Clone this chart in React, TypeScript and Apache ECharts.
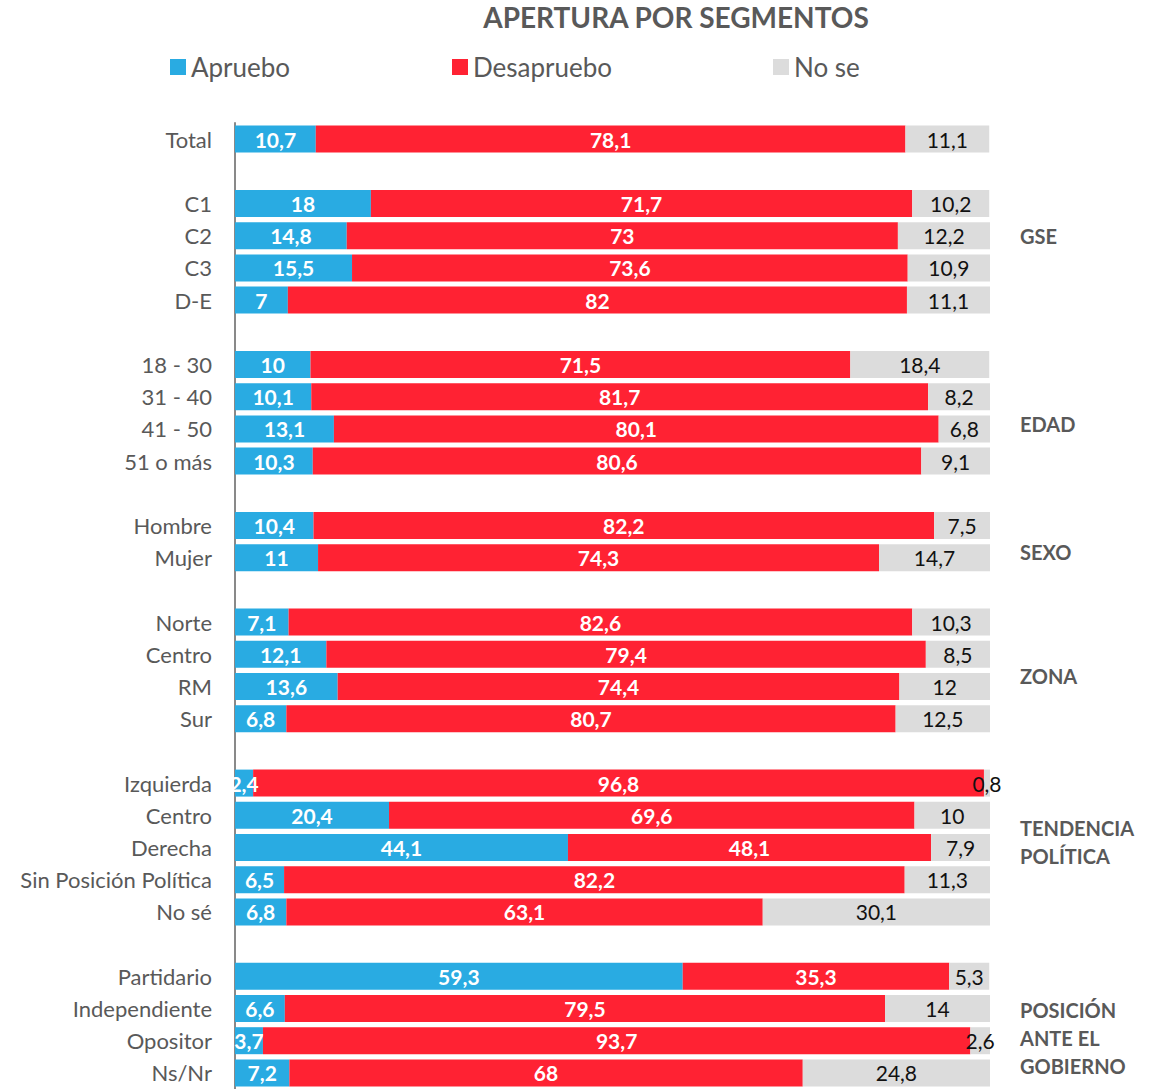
import React, { useEffect, useRef } from "react";
import * as echarts from "echarts";

const categories = [
  "Total", "",
  "C1", "C2", "C3", "D-E", " ",
  "18 - 30", "31 - 40", "41 - 50", "51 o más", "  ",
  "Hombre", "Mujer", "   ",
  "Norte", "Centro", "RM", "Sur", "    ",
  "Izquierda", "Centro", "Derecha", "Sin Posición Política", "No sé", "     ",
  "Partidario", "Independiente", "Opositor", "Ns/Nr",
];

const apruebo = [
  10.7, null,
  18, 14.8, 15.5, 7, null,
  10, 10.1, 13.1, 10.3, null,
  10.4, 11, null,
  7.1, 12.1, 13.6, 6.8, null,
  2.4, 20.4, 44.1, 6.5, 6.8, null,
  59.3, 6.6, 3.7, 7.2,
];

const desapruebo = [
  78.1, null,
  71.7, 73, 73.6, 82, null,
  71.5, 81.7, 80.1, 80.6, null,
  82.2, 74.3, null,
  82.6, 79.4, 74.4, 80.7, null,
  96.8, 69.6, 48.1, 82.2, 63.1, null,
  35.3, 79.5, 93.7, 68,
];

const noSe = [
  11.1, null,
  10.2, 12.2, 10.9, 11.1, null,
  18.4, 8.2, 6.8, 9.1, null,
  7.5, 14.7, null,
  10.3, 8.5, 12, 12.5, null,
  0.8, 10, 7.9, 11.3, 30.1, null,
  5.3, 14, 2.6, 24.8,
];

const groupLabels = [
  { text: "GSE", y: 236 },
  { text: "EDAD", y: 424 },
  { text: "SEXO", y: 552 },
  { text: "ZONA", y: 676 },
  { text: "TENDENCIA\nPOLÍTICA", y: 842 },
  { text: "POSICIÓN\nANTE EL\nGOBIERNO", y: 1038 },
];

const FONT = "Lato, 'Liberation Sans', sans-serif";
const fmt = (p: any) => (p.value == null ? "" : String(p.value).replace(".", ","));

export default function App() {
  const ref = useRef<HTMLDivElement>(null);
  useEffect(() => {
    const chart = echarts.init(ref.current!, undefined, { renderer: "svg" });
    const legendBase = {
      top: 54,
      padding: 0,
      itemWidth: 16,
      itemHeight: 16,
      itemGap: 6,
      icon: "rect",
      textStyle: { fontSize: 26, color: "#595959", fontFamily: FONT },
    };
    chart.setOption({
      animation: false,
      backgroundColor: "#ffffff",
      title: {
        text: "APERTURA POR SEGMENTOS",
        left: 671,
        textAlign: "center",
        top: -2,
        textStyle: { fontSize: 28, fontWeight: "bold", color: "#595959", fontFamily: FONT },
      },
      legend: [
        { ...legendBase, left: 170, data: ["Apruebo"] },
        { ...legendBase, left: 452, data: ["Desapruebo"] },
        { ...legendBase, left: 773, data: ["No se"] },
      ],
      grid: { left: 235, top: 123, width: 755, height: 967, containLabel: false },
      xAxis: {
        type: "value",
        min: 0,
        max: 100,
        show: false,
        splitLine: { show: false },
      },
      yAxis: {
        type: "category",
        inverse: true,
        data: categories,
        axisLine: { show: true, lineStyle: { color: "#898989", width: 2 } },
        axisTick: { show: false },
        axisLabel: { fontSize: 22, color: "#595959", margin: 23, fontFamily: FONT },
      },
      series: [
        {
          name: "Apruebo",
          type: "bar",
          stack: "t",
          barWidth: 27,
          data: apruebo,
          itemStyle: { color: "#29ABE2" },
          label: {
            show: true,
            position: "inside",
            formatter: fmt,
            color: "#ffffff",
            fontWeight: "bold",
            fontSize: 21,
            fontFamily: FONT,
          },
        },
        {
          name: "Desapruebo",
          type: "bar",
          stack: "t",
          barWidth: 27,
          data: desapruebo,
          itemStyle: { color: "#FF2233" },
          label: {
            show: true,
            position: "inside",
            formatter: fmt,
            color: "#ffffff",
            fontWeight: "bold",
            fontSize: 21,
            fontFamily: FONT,
          },
        },
        {
          name: "No se",
          type: "bar",
          stack: "t",
          barWidth: 27,
          data: noSe,
          itemStyle: { color: "#DCDCDC" },
          label: {
            show: true,
            position: "inside",
            formatter: fmt,
            color: "#111111",
            fontSize: 21,
            fontFamily: FONT,
          },
        },
      ],
      graphic: groupLabels.map((g) => ({
        type: "text",
        left: 1020,
        top: g.y - (g.text.split("\n").length * 28) / 2,
        style: {
          text: g.text,
          fontSize: 20,
          fontWeight: "bold",
          fill: "#595959",
          lineHeight: 28,
          fontFamily: FONT,
        },
      })),
    });
    return () => chart.dispose();
  }, []);
  return (
    <div
      ref={ref}
      style={{ position: "absolute", left: 0, top: 0, width: 1161, height: 1089 }}
    />
  );
}
